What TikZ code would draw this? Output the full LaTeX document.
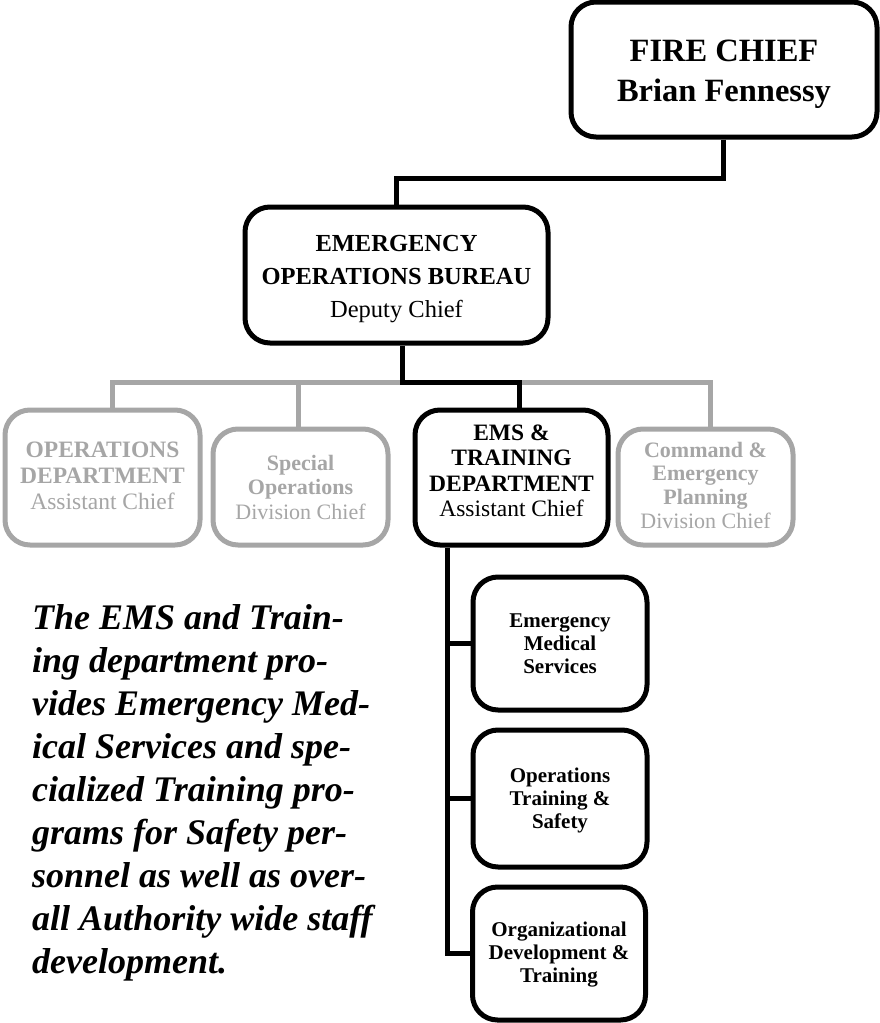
\documentclass[tikz,border=0pt]{standalone}
\usepackage{fontspec}
\setmainfont{Liberation Serif}
\definecolor{lg}{RGB}{166,166,166}
\newcommand\uprule[1]{\rule{0pt}{#1}}
\newcommand\dnrule[1]{\rule[-#1]{0pt}{0pt}}
\begin{document}
\begin{tikzpicture}[x=1pt,y=-1pt,
  box/.style={draw=black, line width=5pt, rounded corners=25pt, align=center, inner sep=0pt, fill=white, text=black},
  gbox/.style={box, draw=lg, text=lg},
  conn/.style={line width=5pt, draw=black},
  gconn/.style={line width=5pt, draw=lg},
  subfont/.style={font={\fontsize{21}{23}\selectfont\bfseries}}]
\useasboundingbox (0,0) rectangle (880,1023);
% coordinates for buses
\coordinate (fcbus) at (0,178);
\coordinate (bus) at (0,382);
\coordinate (busx) at (447,0);
% nodes
\node[box, minimum width=306pt, minimum height=135pt, font={\fontsize{32.5}{40}\selectfont\bfseries}] (fc) at (724,69.5) {\uprule{32pt}FIRE CHIEF\\Brian Fennessy};
\node[box, minimum width=303pt, minimum height=136pt, font={\fontsize{24.5}{33}\selectfont}] (eob) at (396.5,275) {\uprule{23.6pt}\textbf{EMERGENCY}\\\textbf{OPERATIONS BUREAU}\\Deputy Chief};
\node[gbox, minimum width=195pt, minimum height=135pt, font={\fontsize{23.5}{26}\selectfont}] (ops) at (102.5,477.5) {\textbf{OPERATIONS}\\\textbf{DEPARTMENT}\\Assistant Chief\dnrule{3pt}};
\node[gbox, minimum width=175pt, minimum height=116pt, font={\fontsize{22}{24.5}\selectfont}] (spec) at (300.5,487) {\textbf{Special}\\\textbf{Operations}\\Division Chief};
\node[box, minimum width=193pt, minimum height=135pt, font={\fontsize{23.5}{25.5}\selectfont}] (ems) at (511.5,477.5) {\textbf{EMS \&}\\\textbf{TRAINING}\\\textbf{DEPARTMENT}\\Assistant Chief\dnrule{14pt}};
\node[gbox, minimum width=175pt, minimum height=116pt, font={\fontsize{22}{23.7}\selectfont}] (cmd) at (705.5,487) {\textbf{Command \&}\\\textbf{Emergency}\\\textbf{Planning}\\Division Chief\dnrule{4pt}};
\node[box, subfont, minimum width=174pt, minimum height=133pt] (s1) at (560,643.5) {Emergency\\Medical\\Services};
\node[box, subfont, minimum width=174pt, minimum height=137pt] (s2) at (560,798.5) {\uprule{18.2pt}Operations\\Training \&\\Safety};
\node[box, subfont, minimum width=173pt, minimum height=133pt] (s3) at (559,953.5) {\uprule{17.5pt}Organizational\\Development \&\\Training};
% paragraph
\node[anchor=north west, inner sep=0pt, align=left, font={\fontsize{36}{43}\selectfont\bfseries\itshape}] (para) at (32,604) {The EMS and Train-\\ing department pro-\\vides Emergency Med-\\ical Services and spe-\\cialized Training pro-\\grams for Safety per-\\sonnel as well as over-\\all Authority wide staff\\development.};
% gray connectors
\draw[gconn] ([xshift=9.5pt]ops.north) |- ([xshift=4.5pt]cmd.north |- bus) -- ([xshift=4.5pt]cmd.north);
\draw[gconn] ([xshift=-2.5pt]spec.north) -- ([xshift=-2.5pt]spec.north |- bus);
% black connectors
\draw[conn] ([xshift=-1pt]fc.south) |- (eob.north |- fcbus) -- (eob.north);
\draw[conn] ([xshift=5.5pt]eob.south) -- ([xshift=5.5pt]eob.south |- bus) -| ([xshift=7.5pt]ems.north);
\draw[conn] (ems.south -| busx) |- (s3.west);
\draw[conn] (busx |- s1.west) -- (s1.west);
\draw[conn] (busx |- s2.west) -- (s2.west);
\end{tikzpicture}
\end{document}
